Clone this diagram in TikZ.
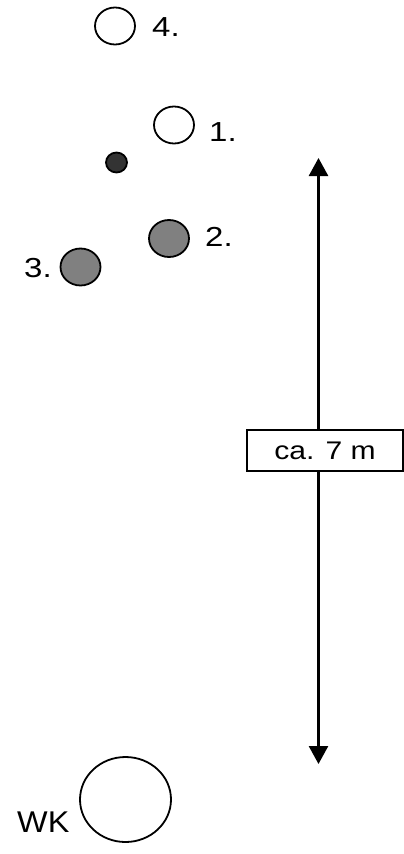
\documentclass[tikz,border=0pt]{standalone}
\usepackage{fontspec}
\setmainfont{Liberation Sans}
\usepackage{tikz}
\usetikzlibrary{arrows.meta,shapes.geometric}

\newcommand{\widetext}[2]{\scalebox{#1}[1]{#2}}

\tikzset{
  spot/.style={ellipse,draw=black,line width=1.8,inner sep=0pt,minimum width=40,minimum height=37},
  lbl/.style={anchor=west,inner sep=0pt,font=\fontsize{27.5}{30}\selectfont},
}

\begin{document}
\begin{tikzpicture}[x=1pt,y=1pt,yscale=-1,xscale=1]
            %set diagram to 404 x 854
            \useasboundingbox (0,0) rectangle (404,854);

            %Shape: Circle
            \node [spot,fill=white] (c4) at (115,26) {};
            %Shape: Circle
            \node [spot,fill=white] (c1) at (174,125) {};
            %Shape: Circle
            \node [spot,fill={rgb,255:red,51;green,51;blue,51},minimum width=21,minimum height=20] (dot) at (116.5,162.5) {};
            %Shape: Circle
            \node [spot,fill={rgb,255:red,128;green,128;blue,128}] (c2) at (169,238.5) {};
            %Shape: Circle
            \node [spot,fill={rgb,255:red,128;green,128;blue,128}] (c3) at (80.5,267) {};
            %Shape: Circle
            \node [spot,fill=white,minimum width=91,minimum height=85] (wk) at (125.5,799.5) {};

            %Arrow ends
            \coordinate (top) at (318.5,158);
            \coordinate (bot) at (318.5,764);
            \draw [line width=2.6,{Triangle[length=18,width=19]}-{Triangle[length=18,width=19]}] (top) -- (bot);
            %Shape: Box
            \node [draw,line width=1.8,fill=white,minimum width=156,minimum height=41,inner sep=0pt,font=\fontsize{25.5}{28}\selectfont] (dist) at (325,450.5) {\widetext{1.18}{ca. 7 m}};

            % Text Node
            \node [lbl] (n4) at (152,27) {\widetext{1.2}{4.}};
            % Text Node
            \node [lbl] (n1) at (209,132) {\widetext{1.2}{1.}};
            % Text Node
            \node [lbl] (n2) at (205,237) {\widetext{1.2}{2.}};
            % Text Node
            \node [lbl] (n3) at (24,268) {\widetext{1.2}{3.}};
            % Text Node
            \node [lbl,font=\fontsize{30}{33}\selectfont] (nwk) at (17,822) {\widetext{1.08}{WK}};
\end{tikzpicture}
\end{document}
